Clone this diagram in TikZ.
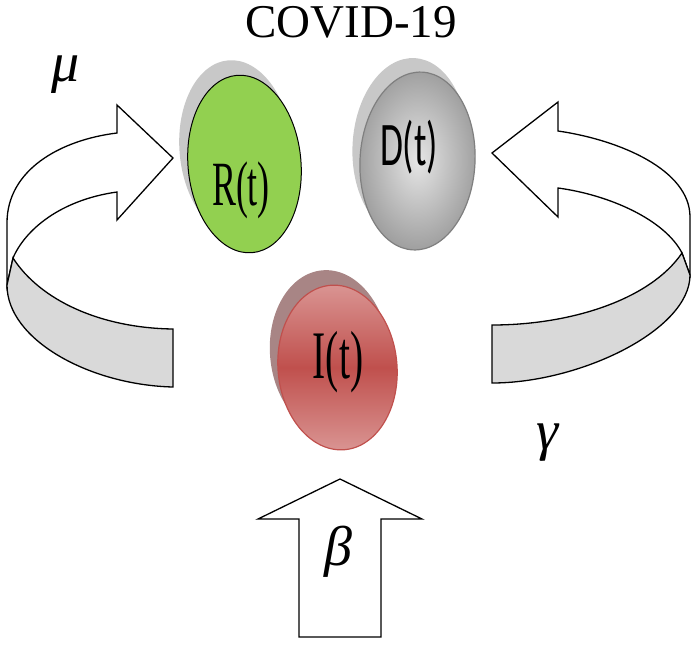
\documentclass[tikz,border=0pt]{standalone}
\usepackage{graphicx}
\usepackage{fontspec}
\setmainfont{Liberation Serif}
\newfontfamily\carl{Carlito}
\usetikzlibrary{shapes.geometric}
\definecolor{rgreen}{HTML}{92D050}
\definecolor{shadowgray}{HTML}{C8C8C8}
\definecolor{ishadow}{HTML}{A88585}
\definecolor{ired}{HTML}{C0504D}
\definecolor{ipink}{HTML}{DA9694}
\definecolor{iborder}{HTML}{C0504D}
\definecolor{dborder}{HTML}{7F7F7F}
\definecolor{bandgray}{HTML}{D9D9D9}
\begin{document}
\begin{tikzpicture}[x=1pt,y=-1pt,
  arrowbody/.style={draw=black, fill=white, line width=1.3pt, line join=miter},
  arrowback/.style={draw=black, fill=bandgray, line width=1.3pt, line join=miter},
  blob/.style={ellipse, inner sep=0pt},
  greek/.style={font=\fontsize{56}{56}\selectfont\itshape}
]
\useasboundingbox (0,0) rectangle (698,646);

% title
\node[anchor=base, inner sep=0pt, font=\fontsize{47}{47}\selectfont] (title) at (351,37) {COVID-19};

% left curved arrow (mu)
\draw[arrowbody] (7,285) -- (7,223) .. controls (7,170) and (60,140) .. (117,133) -- (117,105) -- (173,158) -- (117,220) -- (117,192) .. controls (60,200) and (25,230) .. (13,258) -- cycle;
\draw[arrowback] (13,258) .. controls (40,300) and (100,328) .. (173,329) -- (173,387) .. controls (90,385) and (7,340) .. (7,285) -- cycle;

% right curved arrow (gamma)
\draw[arrowbody] (682,253) .. controls (665,220) and (610,195) .. (558,188) -- (558,217) -- (492,153) -- (558,102) -- (558,131) .. controls (620,140) and (690,170) .. (690,217) -- (690,275) -- cycle;
\draw[arrowback] (682,253) .. controls (650,300) and (570,325) .. (492,325) -- (492,383) .. controls (580,383) and (690,330) .. (690,275) -- cycle;

% beta arrow
\draw[arrowbody] (340,479) -- (422,519) -- (381,519) -- (381,637) -- (299,637) -- (299,519) -- (258,519) -- cycle;

% R(t)
\node[blob, fill=shadowgray, minimum width=113pt, minimum height=178pt, rotate=5] (Rs) at (236,149) {};
\node[blob, draw=black, line width=1pt, fill=rgreen, minimum width=113pt, minimum height=178pt, rotate=5] (R) at (244.5,164) {};
\node[anchor=base] (Rt) at (241,205) {\scalebox{0.57}[1]{\fontsize{63}{63}\selectfont R(t)}};

% D(t)
\node[blob, fill=shadowgray, minimum width=115pt, minimum height=178pt, rotate=-3] (Ds) at (410,147) {};
\node[blob, draw=dborder, line width=1.2pt, inner color=gray!20, outer color=gray!75, minimum width=115pt, minimum height=178pt, rotate=-3] (D) at (417.5,161) {};
\node[anchor=base] (Dt) at (409,165) {\scalebox{0.6}[1]{\carl\fontsize{62}{62}\selectfont D(t)}};

% I(t)
\node[blob, fill=ishadow, minimum width=119pt, minimum height=165pt, rotate=5] (Is) at (329.5,352.5) {};
\node[blob, draw=iborder, line width=1.2pt, top color=ipink, bottom color=ipink, middle color=ired, minimum width=119pt, minimum height=165pt, rotate=5] (I) at (337.5,367.5) {};
\node[anchor=base] (It) at (338,378) {\scalebox{0.58}[1]{\fontsize{68}{68}\selectfont I(t)}};

% rates
\node[greek] (mu) at (66,75) {μ};
\node[greek] (gamma) at (548,443) {γ};
\node[greek] (beta) at (338,552) {β};
\end{tikzpicture}
\end{document}
